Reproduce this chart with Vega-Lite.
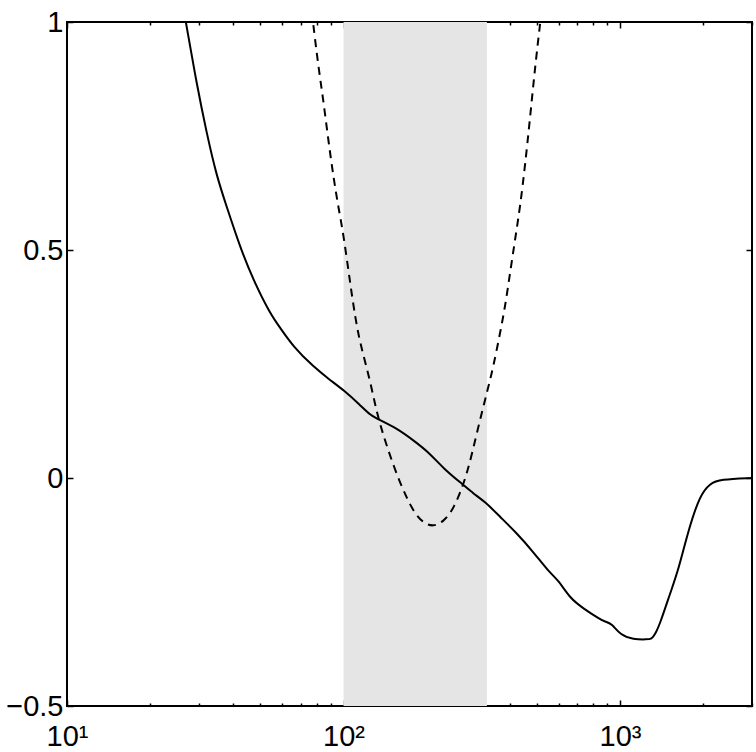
{
  "$schema": "https://vega.github.io/schema/vega-lite/v6.json",
  "width": 685,
  "height": 684,
  "autosize": {"type": "none"},
  "padding": {"left": 67, "top": 22, "right": 4, "bottom": 46},
  "background": "white",
  "config": {
    "view": {"stroke": "black", "strokeWidth": 2},
    "font": "Liberation Sans",
    "axis": {
      "grid": false,
      "title": null,
      "domain": false,
      "tickColor": "black",
      "tickWidth": 1.5,
      "labelColor": "black",
      "labelFont": "Liberation Sans",
      "labelFontSize": 29,
      "labelFlush": false,
      "labelOverlap": false,
      "labelBound": false
    }
  },
  "datasets": {
    "band": [{"x0": 100, "x1": 330}],
    "solid": [
      {"x": 26.9, "y": 1.0}, {"x": 29.4, "y": 0.866}, {"x": 32.0, "y": 0.756}, {"x": 34.8, "y": 0.661},
      {"x": 37.8, "y": 0.595}, {"x": 42.2, "y": 0.507}, {"x": 47.2, "y": 0.434}, {"x": 54.2, "y": 0.361},
      {"x": 58.9, "y": 0.33}, {"x": 65.8, "y": 0.288}, {"x": 77.8, "y": 0.244}, {"x": 89.3, "y": 0.215},
      {"x": 100, "y": 0.193}, {"x": 114.9, "y": 0.160}, {"x": 124.7, "y": 0.138}, {"x": 135.5, "y": 0.127},
      {"x": 155.7, "y": 0.109}, {"x": 178.7, "y": 0.083}, {"x": 205.4, "y": 0.054}, {"x": 229.5, "y": 0.021},
      {"x": 271, "y": -0.015}, {"x": 294.6, "y": -0.034}, {"x": 325, "y": -0.052}, {"x": 368, "y": -0.085},
      {"x": 422.8, "y": -0.121}, {"x": 485.6, "y": -0.162}, {"x": 550.7, "y": -0.205}, {"x": 598.5, "y": -0.224},
      {"x": 659.5, "y": -0.264}, {"x": 736.5, "y": -0.286}, {"x": 847, "y": -0.310}, {"x": 880, "y": -0.315},
      {"x": 933.7, "y": -0.319}, {"x": 1000, "y": -0.344}, {"x": 1117, "y": -0.354}, {"x": 1250, "y": -0.354},
      {"x": 1302, "y": -0.353}, {"x": 1339, "y": -0.343}, {"x": 1396, "y": -0.319}, {"x": 1517, "y": -0.253},
      {"x": 1625, "y": -0.202}, {"x": 1767, "y": -0.114}, {"x": 1946, "y": -0.037}, {"x": 2115, "y": -0.012},
      {"x": 2299, "y": -0.003}, {"x": 3000, "y": 0}
    ],
    "dashed": [
      {"x": 77.8, "y": 0.993}, {"x": 81.1, "y": 0.902}, {"x": 84.5, "y": 0.829}, {"x": 88.1, "y": 0.741},
      {"x": 91.9, "y": 0.661}, {"x": 95.7, "y": 0.595}, {"x": 99.8, "y": 0.537}, {"x": 105.7, "y": 0.427},
      {"x": 110.1, "y": 0.354}, {"x": 114.8, "y": 0.295}, {"x": 124.7, "y": 0.215}, {"x": 131.9, "y": 0.142},
      {"x": 143.3, "y": 0.069}, {"x": 160, "y": -0.012}, {"x": 178.7, "y": -0.074}, {"x": 194.5, "y": -0.099},
      {"x": 211, "y": -0.107}, {"x": 229.5, "y": -0.096}, {"x": 249.5, "y": -0.070}, {"x": 279, "y": 0.003},
      {"x": 303.5, "y": 0.1}, {"x": 334, "y": 0.2}, {"x": 348, "y": 0.244}, {"x": 368, "y": 0.317},
      {"x": 384, "y": 0.376}, {"x": 400, "y": 0.449}, {"x": 417, "y": 0.522}, {"x": 435, "y": 0.595},
      {"x": 453, "y": 0.683}, {"x": 473, "y": 0.792}, {"x": 493, "y": 0.902}, {"x": 514, "y": 0.997}
    ]
  },
  "resolve": {"axis": {"x": "independent", "y": "independent"}},
  "layer": [
    {
      "data": {"name": "band"},
      "mark": {"type": "rect", "color": "#e5e5e5"},
      "encoding": {
        "x": {
          "field": "x0", "type": "quantitative",
          "scale": {"type": "log", "domain": [10, 3000]},
          "axis": {
            "orient": "bottom",
            "values": [10, 20, 30, 40, 50, 60, 70, 80, 90, 100, 200, 300, 400, 500, 600, 700, 800, 900, 1000, 2000, 3000],
            "labelExpr": "datum.value == 10 ? '10¹' : datum.value == 100 ? '10²' : datum.value == 1000 ? '10³' : ''",
            "tickSize": {"condition": {"test": "datum.value == 10 || datum.value == 100 || datum.value == 1000", "value": -6}, "value": -3},
            "labelPadding": 22
          }
        },
        "x2": {"field": "x1"}
      }
    },
    {
      "data": {"name": "solid"},
      "mark": {"type": "line", "color": "black", "strokeWidth": 2, "interpolate": "basis", "clip": true},
      "encoding": {
        "x": {"field": "x", "type": "quantitative", "scale": {"type": "log", "domain": [10, 3000]}, "axis": null},
        "y": {
          "field": "y", "type": "quantitative",
          "scale": {"domain": [-0.5, 1], "nice": false, "zero": false},
          "axis": {
            "orient": "left",
            "values": [-0.5, 0, 0.5, 1],
            "labelExpr": "datum.value == -0.5 ? '−0.5' : datum.value == 0 ? '0' : datum.value == 0.5 ? '0.5' : '1'",
            "tickSize": -6,
            "labelPadding": 10
          }
        }
      }
    },
    {
      "data": {"name": "dashed"},
      "mark": {"type": "line", "color": "black", "strokeWidth": 2, "strokeDash": [8, 6], "interpolate": "basis", "clip": true},
      "encoding": {
        "x": {
          "field": "x", "type": "quantitative",
          "scale": {"type": "log", "domain": [10, 3000]},
          "axis": {
            "orient": "top",
            "values": [10, 20, 30, 40, 50, 60, 70, 80, 90, 100, 200, 300, 400, 500, 600, 700, 800, 900, 1000, 2000, 3000],
            "labels": false,
            "tickSize": {"condition": {"test": "datum.value == 10 || datum.value == 100 || datum.value == 1000", "value": -6}, "value": -3}
          }
        },
        "y": {
          "field": "y", "type": "quantitative",
          "scale": {"domain": [-0.5, 1], "nice": false, "zero": false},
          "axis": {"orient": "right", "values": [-0.5, 0, 0.5, 1], "labels": false, "tickSize": -6}
        }
      }
    }
  ]
}
